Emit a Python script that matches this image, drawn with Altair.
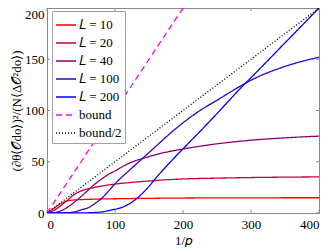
import altair as alt
import pandas as pd

# ---- data ----
x_L10 = [0, 10, 20, 30, 40, 60, 80, 100, 150, 200, 300, 400]
y_L10 = [0, 4.5, 9, 11.8, 12.7, 13.3, 13.7, 13.9, 14.3, 14.6, 14.8, 14.9]

x_L20 = [0, 10, 20, 30, 40, 50, 60, 70, 80, 100, 120, 150, 175, 200, 250, 300, 400]
y_L20 = [0, 2.5, 7, 12.5, 18, 21.5, 23.5, 25, 26.3, 28.2, 29.6, 31.2, 32.4, 33.2, 34, 34.6, 35.2]

x_L40 = [0, 10, 15, 20, 30, 40, 50, 60, 70, 80, 90, 100, 116, 130, 140, 160, 180, 205, 250, 300, 350, 400]
y_L40 = [0, 0.3, 0.8, 2, 5.5, 10.5, 16, 22, 28, 33, 37.5, 41, 47, 51, 53, 57, 60, 63, 67.5, 71, 73.3, 75]

x_L100 = [0, 30, 40, 50, 60, 70, 80, 90, 100, 110, 120, 130, 140, 160, 180, 200, 225, 250, 285, 300, 350, 400]
y_L100 = [0, 0.3, 1, 3, 5, 9, 14, 21, 28.5, 35, 41, 47, 53, 65, 77, 88, 100, 110, 124, 129.5, 143, 152]

x_L200 = [0, 50, 70, 80, 95, 110, 120, 130, 140, 150, 160, 172, 186, 205, 230, 250, 285, 300, 350, 400]
y_L200 = [0, 0.1, 0.5, 1, 3, 5.5, 8.5, 13, 19, 26, 34, 43, 53, 66, 83, 97, 122, 132, 166, 200]

x_bound = [0, 200]
y_bound = [0, 200]
x_half = [0, 400]
y_half = [0, 200]

series_names = ["𝐿 = 10", "𝐿 = 20", "𝐿 = 40", "𝐿 = 100", "𝐿 = 200", "bound", "bound/2"]
series_colors = ["#ff0000", "#c4003b", "#890076", "#3b00c4", "#0000ff", "#ff00ff", "#000000"]
series_dash = [[1, 0], [1, 0], [1, 0], [1, 0], [1, 0], [6, 4], [1, 2]]

x_ticks = [0, 100, 200, 300, 400]
y_ticks = [0, 50, 100, 150, 200]

xs = [x_L10, x_L20, x_L40, x_L100, x_L200, x_bound, x_half]
ys = [y_L10, y_L20, y_L40, y_L100, y_L200, y_bound, y_half]

rows = []
for name, xv, yv in zip(series_names, xs, ys):
    for i, (a, b) in enumerate(zip(xv, yv)):
        rows.append({"x": a, "y": b, "series": name, "order": i})
df = pd.DataFrame(rows)

FONT = "Liberation Serif"
GRAY = "#8a8a8a"

xscale = alt.Scale(domain=[0, 400], nice=False, zero=False)
yscale = alt.Scale(domain=[0, 200], nice=False, zero=False)

lines = alt.Chart(df).mark_line(strokeWidth=1.3, interpolate="monotone", clip=True).encode(
    x=alt.X("x:Q", scale=xscale,
            axis=alt.Axis(values=x_ticks, title="1/𝑝", titlePadding=3)),
    y=alt.Y("y:Q", scale=yscale,
            axis=alt.Axis(values=y_ticks, title="(∂θ⟨𝒪do⟩)²/(N⟨Δ𝒪²do⟩)", titlePadding=1,
                          labelBaseline={"condition": {"test": "datum.value == 200", "value": "top"},
                                         "value": "middle"})),
    color=alt.Color("series:N", title=None,
                    scale=alt.Scale(domain=series_names, range=series_colors),
                    legend=alt.Legend(orient="none", legendX=5, legendY=3)),
    strokeDash=alt.StrokeDash("series:N", title=None,
                              scale=alt.Scale(domain=series_names, range=series_dash)),
    detail="series:N",
    order="order:Q",
)

# inward ticks on all four sides
tick_y_len = 3.0   # in y units
tick_x_len = 4.4   # in x units
xt = pd.DataFrame({"v": x_ticks})
yt = pd.DataFrame({"v": y_ticks})
xt_b = xt.assign(a=0.0, b=tick_y_len)
xt_t = xt.assign(a=200.0, b=200.0 - tick_y_len)
yt_l = yt.assign(a=0.0, b=tick_x_len)
yt_r = yt.assign(a=400.0, b=400.0 - tick_x_len)

def xtick(d):
    return alt.Chart(d).mark_rule(color=GRAY, strokeWidth=1).encode(
        x=alt.X("v:Q", scale=xscale), y=alt.Y("a:Q", scale=yscale), y2="b:Q")

def ytick(d):
    return alt.Chart(d).mark_rule(color=GRAY, strokeWidth=1).encode(
        y=alt.Y("v:Q", scale=yscale), x=alt.X("a:Q", scale=xscale), x2="b:Q")

chart = alt.layer(
    xtick(xt_b), xtick(xt_t), ytick(yt_l), ytick(yt_r), lines
).properties(
    width=272, height=205,
    autosize=alt.AutoSizeParams(type="none"),
    padding={"left": 39, "top": 0, "right": 5, "bottom": 34},
).configure_view(
    stroke=GRAY, strokeWidth=1
).configure_axis(
    domain=False, ticks=False, tickSize=0, grid=False,
    labelFont=FONT, labelFontSize=13, labelColor="#000000",
    titleFont=FONT, titleFontSize=13, titleFontWeight="normal", titleColor="#000000",
).configure_axisX(
    labelPadding=5, titleFontSize=13,
).configure_axisY(
    labelPadding=3,
).configure_legend(
    labelFont=FONT, labelFontSize=13, labelColor="#000000",
    symbolType="stroke", symbolSize=400, symbolStrokeWidth=1.5,
    strokeColor="#a0a0a0", fillColor="#ffffff", padding=3,
    rowPadding=-4.7, labelOffset=2,
)

chart.save("out.html", embed_options={"renderer": "svg", "actions": False})
